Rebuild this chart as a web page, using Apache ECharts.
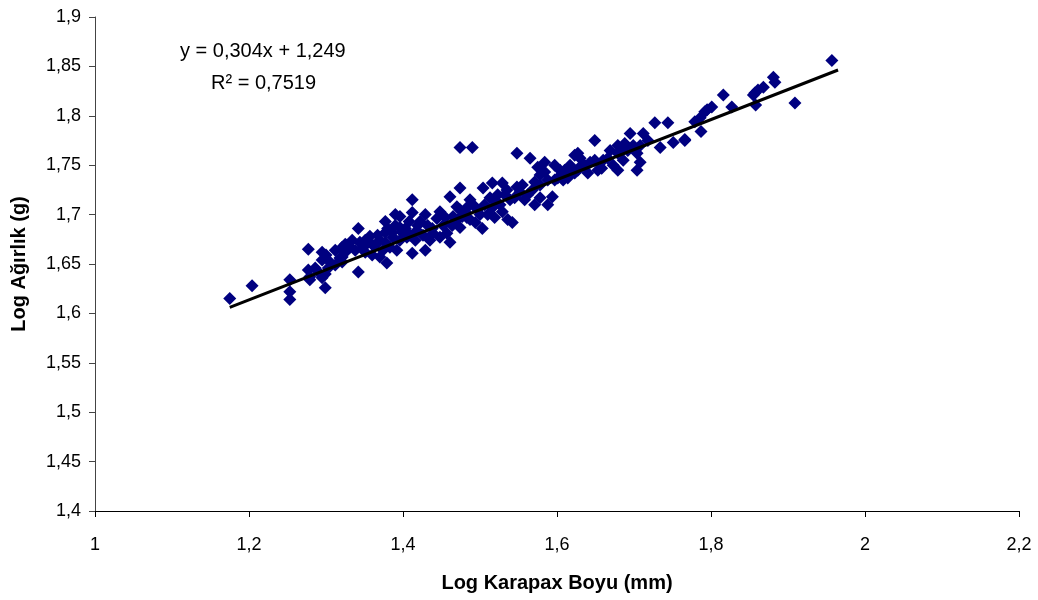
<!DOCTYPE html>
<html>
<head>
<meta charset="utf-8">
<script src="https://cdn.jsdelivr.net/npm/echarts@6/dist/echarts.min.js"></script>
<style>
html,body{margin:0;padding:0;background:#fff;}
#chart{width:1038px;height:600px;}
</style>
</head>
<body>
<div id="chart"></div>
<script>
// Log Karapax Boyu (mm)
const xValues = [
1.175,1.204,1.253,1.253,1.253,1.277,1.277,1.279,1.279,1.286,1.295,1.295,1.299,1.295,1.299,1.303,1.300,1.312,1.321,1.321,1.305,1.318,1.325,1.321,
1.342,1.342,1.327,1.344,1.361,1.370,1.379,1.374,1.392,1.377,1.390,1.396,1.412,1.412,1.429,1.444,1.461,1.429,1.412,1.387,1.405,1.418,1.422,1.457,1.448,1.461,1.474,1.470,1.483,
1.351,1.357,1.364,1.338,1.331,1.377,1.377,1.396,1.396,1.403,1.409,1.416,1.432,1.439,1.435,1.452,1.448,1.465,1.474,1.390,1.370,1.383,1.360,1.351,
1.474,1.490,1.548,1.565,1.474,1.504,1.516,1.529,1.548,1.575,1.584,1.597,1.610,1.623,1.623,1.588,1.578,1.536,1.542,1.503,1.494,1.477,1.484,1.529,1.558,1.568,1.594,
1.487,1.497,1.506,1.513,1.519,1.526,1.532,1.539,1.545,1.552,1.510,1.519,1.487,1.500,1.578,1.578,1.588,1.571,1.597,1.604,1.584,1.610,1.608,
1.649,1.627,1.695,1.712,1.727,1.744,1.734,1.751,1.766,1.679,1.679,1.686,1.704,1.708,1.704,1.679,1.658,1.640,1.627,1.613,1.660,1.686,1.636,1.617,1.643,1.669,1.688,1.708,1.630,
1.957,1.909,1.881,1.883,1.868,1.861,1.857,1.855,1.858,1.827,1.816,1.801,1.795,1.792,1.786,1.779,1.787,1.766,
1.325,1.334,1.348,1.355,1.367,1.380,1.386,1.399,1.408,1.419,1.426,1.438,1.455,1.464,1.471,1.481,1.491,1.516,1.523,1.535,1.555,1.562,1.571,1.601,1.614,1.619,1.632,1.649,1.653,1.666,1.673,1.692,1.699,1.718,1.312,1.290
];
// Log Ağırlık (g)
const yValues = [
1.615,1.628,1.634,1.622,1.614,1.665,1.644,1.637,1.634,1.646,1.654,1.662,1.626,1.636,1.640,1.646,1.659,1.664,1.667,1.657,1.652,1.656,1.670,1.652,
1.686,1.642,1.669,1.672,1.669,1.657,1.651,1.664,1.664,1.693,1.689,1.698,1.702,1.715,1.700,1.696,1.718,1.664,1.661,1.677,1.677,1.684,1.693,1.681,1.677,1.672,1.687,1.708,1.697,
1.674,1.678,1.669,1.664,1.667,1.682,1.672,1.687,1.674,1.686,1.679,1.674,1.689,1.681,1.674,1.689,1.703,1.698,1.705,1.700,1.674,1.667,1.659,1.662,
1.768,1.768,1.762,1.757,1.727,1.727,1.732,1.732,1.728,1.748,1.743,1.750,1.745,1.760,1.742,1.710,1.717,1.695,1.692,1.686,1.692,1.698,1.708,1.703,1.715,1.725,1.718,
1.715,1.705,1.710,1.717,1.715,1.710,1.720,1.715,1.717,1.723,1.700,1.697,1.695,1.700,1.740,1.730,1.735,1.733,1.735,1.745,1.753,1.740,1.735,
1.775,1.762,1.782,1.782,1.793,1.793,1.768,1.773,1.775,1.770,1.762,1.768,1.762,1.753,1.745,1.745,1.747,1.742,1.745,1.745,1.755,1.755,1.750,1.750,1.753,1.765,1.772,1.770,1.757,
1.856,1.813,1.839,1.834,1.829,1.826,1.823,1.821,1.811,1.809,1.821,1.809,1.806,1.804,1.798,1.794,1.784,1.776,
1.662,1.674,1.667,1.672,1.679,1.686,1.682,1.682,1.693,1.689,1.679,1.686,1.697,1.689,1.695,1.703,1.710,1.707,1.720,1.725,1.730,1.720,1.710,1.737,1.737,1.747,1.750,1.755,1.745,1.757,1.750,1.765,1.770,1.775,1.649,1.642
];
// Trend line: y = 0,304x + 1,249 drawn over the data range
const trendSlope = 0.304;
const trendIntercept = 1.249;
const trendX = [1.175, 1.965];
const equationText = 'y = 0,304x + 1,249';
const r2Text = 'R² = 0,7519';

const scatterData = xValues.map((x, i) => [x, yValues[i]]);
const trendData = trendX.map(x => [x, trendSlope * x + trendIntercept]);

const fmt = v => String(Math.round(v * 100) / 100).replace('.', ',');
const FONT = 'Liberation Sans, Arial';

const chart = echarts.init(document.getElementById('chart'));
chart.setOption({
  animation: false,
  backgroundColor: '#ffffff',
  grid: { left: 95, right: 19, top: 17, bottom: 89, containLabel: false },
  xAxis: {
    type: 'value', min: 1, max: 2.2, interval: 0.2,
    name: 'Log Karapax Boyu (mm)', nameLocation: 'middle', nameGap: 62,
    nameTextStyle: { fontFamily: FONT, fontWeight: 'bold', fontSize: 20, color: '#000' },
    axisLine: { lineStyle: { color: '#000', width: 1 } },
    axisTick: { show: true, inside: false, length: 6, lineStyle: { color: '#000' } },
    axisLabel: { formatter: fmt, margin: 25, fontFamily: FONT, fontSize: 18, color: '#000' },
    splitLine: { show: false }
  },
  yAxis: {
    type: 'value', min: 1.4, max: 1.9, interval: 0.05,
    name: 'Log Ağırlık (g)', nameLocation: 'middle', nameGap: 66, nameRotate: 90,
    nameTextStyle: { fontFamily: FONT, fontWeight: 'bold', fontSize: 20, color: '#000' },
    axisLine: { show: true, lineStyle: { color: '#444', width: 1 } },
    axisTick: { show: true, inside: false, length: 6, lineStyle: { color: '#444' } },
    axisLabel: { formatter: fmt, margin: 14, fontFamily: FONT, fontSize: 18, color: '#000' },
    splitLine: { show: false }
  },
  series: [
    {
      type: 'scatter',
      data: scatterData,
      symbol: 'diamond',
      symbolSize: 13,
      itemStyle: { color: '#000080', opacity: 1 },
      z: 2
    },
    {
      type: 'line',
      data: trendData,
      symbol: 'none',
      lineStyle: { color: '#000', width: 3 },
      z: 3
    }
  ],
  graphic: [
    { type: 'text', left: 180, top: 41, style: { text: equationText, fontFamily: FONT, fontSize: 20, fill: '#000' } },
    { type: 'text', left: 211, top: 73, style: { text: r2Text, fontFamily: FONT, fontSize: 20, fill: '#000' } }
  ]
});
</script>
</body>
</html>
